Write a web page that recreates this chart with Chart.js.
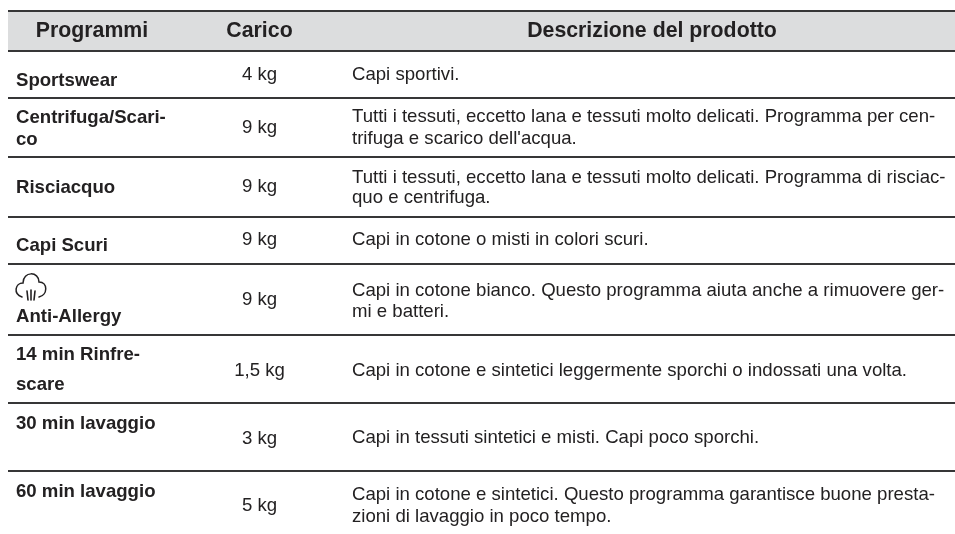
<!DOCTYPE html>
<html><head><meta charset="utf-8">
<style>html,body{margin:0;padding:0;background:#fff}canvas{display:block;filter:blur(0.35px)}</style>
<script src="https://cdn.jsdelivr.net/npm/chart.js@4"></script>
</head><body><canvas id="c" width="955" height="534"></canvas>
<script>
const headers = ["Programmi", "Carico", "Descrizione del prodotto"];
const programmi = [["Sportswear"],["Centrifuga/Scari-","co"],["Risciacquo"],["Capi Scuri"],["Anti-Allergy"],["14 min Rinfre-","scare"],["30 min lavaggio"],["60 min lavaggio"]];
const carichi = ["4 kg","9 kg","9 kg","9 kg","9 kg","1,5 kg","3 kg","5 kg"];
const descrizioni = [
 ["Capi sportivi."],
 ["Tutti i tessuti, eccetto lana e tessuti molto delicati. Programma per cen-","trifuga e scarico dell'acqua."],
 ["Tutti i tessuti, eccetto lana e tessuti molto delicati. Programma di risciac-","quo e centrifuga."],
 ["Capi in cotone o misti in colori scuri."],
 ["Capi in cotone bianco. Questo programma aiuta anche a rimuovere ger-","mi e batteri."],
 ["Capi in cotone e sintetici leggermente sporchi o indossati una volta."],
 ["Capi in tessuti sintetici e misti. Capi poco sporchi."],
 ["Capi in cotone e sintetici. Questo programma garantisce buone presta-","zioni di lavaggio in poco tempo."]
];
// layout (page units used by the hidden scales)
const LEFT=8, RIGHT=955, RULES=[11,51,98,157,217,264,335,403,471];
const COLX={prog:16,load:259.5,desc:352,hProg:92,hLoad:259.5,hDesc:652};
const HEAD_BASE=37;
const PROG_BASE=[[85.5],[123,145],[193],[250.5],[321.5],[360,390],[428.5],[496.5]];
const LOAD_BASE=[80,133,192,245,305,375.5,443.5,510.5];
const DESC_BASE=[[80],[122,144],[182.5,203],[245],[295.5,317],[375.5],[442.5],[500,522]];
const INK="#232122", RULE="#363637", HEAD="#dcddde";

const hLine=(y)=>[{x:LEFT,y},{x:RIGHT,y}];
const datasets=[
 {data:hLine(RULES[0]),borderColor:'transparent',backgroundColor:HEAD,fill:'+1',pointRadius:0,borderWidth:0,order:5},
 {data:hLine(RULES[1]),borderColor:'transparent',pointRadius:0,borderWidth:0,fill:false,order:5},
 ...RULES.map(y=>({data:hLine(y),borderColor:RULE,borderWidth:1.8,pointRadius:0,fill:false,order:1}))
];
const tablePlugin={id:'tableText',afterDatasetsDraw(chart){
 const {ctx,scales:{x,y}}=chart;
 const put=(s,px,py,font,align)=>{ctx.font=font;ctx.textAlign=align||'left';ctx.textBaseline='alphabetic';ctx.fillStyle=INK;ctx.fillText(s,x.getPixelForValue(px),y.getPixelForValue(py));};
 ctx.save();
 const fh='bold 21.3px "Liberation Sans"',fb='bold 18.6px "Liberation Sans"',fn='18.6px "Liberation Sans"';
 put(headers[0],COLX.hProg,HEAD_BASE,fh,'center');
 put(headers[1],COLX.hLoad,HEAD_BASE,fh,'center');
 put(headers[2],COLX.hDesc,HEAD_BASE,fh,'center');
 programmi.forEach((lines,i)=>lines.forEach((s,j)=>put(s,COLX.prog,PROG_BASE[i][j],fb)));
 carichi.forEach((s,i)=>put(s,COLX.load,LOAD_BASE[i],fn,'center'));
 descrizioni.forEach((lines,i)=>lines.forEach((s,j)=>put(s,COLX.desc,DESC_BASE[i][j],fn)));
 // shower-cloud icon
 const X=v=>x.getPixelForValue(v),Y=v=>y.getPixelForValue(v);
 ctx.strokeStyle=INK;ctx.lineWidth=1.5;ctx.lineCap='round';
 ctx.beginPath();
 ctx.moveTo(X(22),Y(297));
 ctx.bezierCurveTo(X(13),Y(294),X(15),Y(283),X(23),Y(283));
 ctx.bezierCurveTo(X(23),Y(271),X(39),Y(271),X(39),Y(282));
 ctx.bezierCurveTo(X(48),Y(282),X(48),Y(295),X(39),Y(297));
 ctx.stroke();
 ctx.lineWidth=1.6;
 [[27,291,28,300],[31,290,31,300],[35,291,34,300]].forEach(l=>{ctx.beginPath();ctx.moveTo(X(l[0]),Y(l[1]));ctx.lineTo(X(l[2]),Y(l[3]));ctx.stroke();});
 ctx.restore();
}};
new Chart(document.getElementById('c'),{type:'line',data:{datasets},plugins:[tablePlugin],options:{
 responsive:false,animation:false,parsing:false,normalized:true,
 layout:{padding:0},
 plugins:{legend:{display:false},tooltip:{enabled:false},filler:{propagate:false}},
 scales:{x:{type:'linear',min:0,max:955,display:false},y:{type:'linear',min:0,max:534,reverse:true,display:false}}
}});
</script></body></html>
